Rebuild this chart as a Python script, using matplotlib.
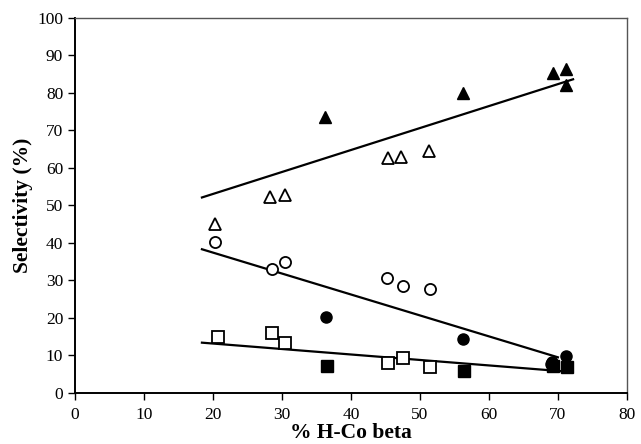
import numpy as np
import matplotlib
matplotlib.use("Agg")
import matplotlib.pyplot as plt

plt.rcParams['font.family'] = ['Liberation Serif', 'DejaVu Serif']

# triangles
tri_fill_x = [36.2, 56.2, 69.3, 71.2, 71.2]
tri_fill_y = [73.6, 80.0, 85.2, 86.3, 82.1]
tri_open_x = [20.3, 28.3, 30.4, 45.4, 47.3, 51.3]
tri_open_y = [45.0, 52.3, 52.8, 62.6, 62.8, 64.5]
tri_line_x = [18.4, 72.2]
tri_line_y = [52.1, 83.6]

# circles
circ_fill_x = [36.4, 56.3, 69.2, 71.2, 69.0]
circ_fill_y = [20.2, 14.4, 8.2, 9.9, 7.6]
circ_open_x = [20.3, 28.5, 30.4, 45.2, 47.5, 51.5]
circ_open_y = [40.2, 33.0, 34.8, 30.6, 28.5, 27.7]
circ_line_x = [18.4, 70.0]
circ_line_y = [38.3, 9.5]

# squares
sq_fill_x = [36.6, 56.4, 69.3, 71.3]
sq_fill_y = [7.2, 5.9, 7.3, 6.8]
sq_open_x = [20.8, 28.5, 30.4, 45.4, 47.5, 51.5]
sq_open_y = [15.0, 15.9, 13.2, 8.1, 9.4, 7.0]
sq_line_x = [18.4, 71.2]
sq_line_y = [13.4, 5.7]

fig = plt.figure(figsize=(6.41, 4.44), dpi=100)
ax = fig.add_axes([0.117, 0.115, 0.861, 0.845])

for lx, ly in [(tri_line_x, tri_line_y), (circ_line_x, circ_line_y), (sq_line_x, sq_line_y)]:
    ax.plot(lx, ly, color='black', lw=1.6, zorder=2)

ms = 8
ax.plot(tri_open_x, tri_open_y, ls='', marker='^', ms=ms, mfc='white', mec='black', mew=1.3, zorder=3)
ax.plot(tri_fill_x, tri_fill_y, ls='', marker='^', ms=ms, color='black', zorder=3)
ax.plot(circ_open_x, circ_open_y, ls='', marker='o', ms=ms, mfc='white', mec='black', mew=1.3, zorder=3)
ax.plot(circ_fill_x, circ_fill_y, ls='', marker='o', ms=ms, color='black', zorder=3)
ax.plot(sq_open_x, sq_open_y, ls='', marker='s', ms=ms, mfc='white', mec='black', mew=1.3, zorder=3)
ax.plot(sq_fill_x, sq_fill_y, ls='', marker='s', ms=ms, color='black', zorder=3)

ax.set_xlim(0, 80)
ax.set_ylim(0, 100)
ax.set_xticks(np.arange(0, 81, 10))
ax.set_yticks(np.arange(0, 101, 10))
ax.tick_params(direction='out', length=5, width=1, labelsize=12.5, top=False, right=False)
ax.tick_params(axis='x', pad=5)
for s in ['left', 'bottom']:
    ax.spines[s].set_linewidth(1.4)
for s in ['top', 'right']:
    ax.spines[s].set_linewidth(1.0)
    ax.spines[s].set_color('#555555')

ax.set_xlabel('% H-Co beta', fontsize=15.5, fontweight='bold', labelpad=0)
ax.set_ylabel('Selectivity (%)', fontsize=15.5, fontweight='bold', labelpad=3)

fig.savefig('out.png', dpi=100)
